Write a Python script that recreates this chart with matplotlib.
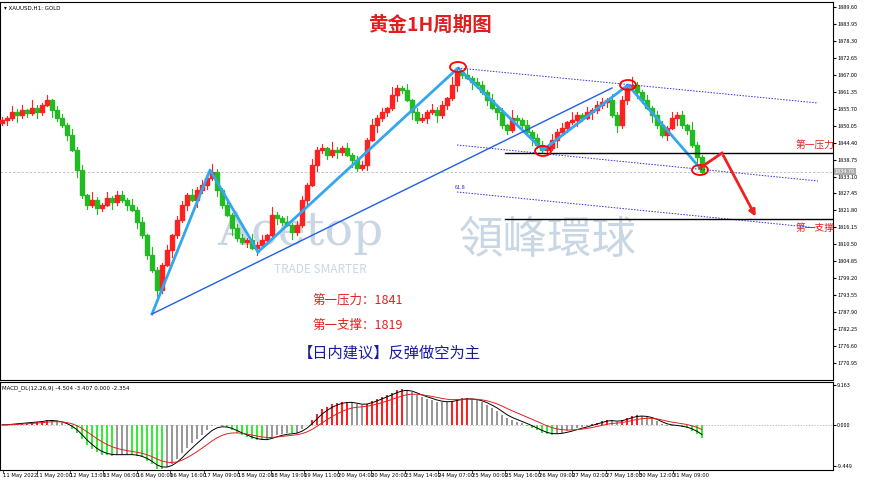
import matplotlib
matplotlib.use("Agg")
import matplotlib.pyplot as plt
import numpy as np
from matplotlib.patches import Ellipse, Rectangle

plt.rcParams['font.family'] = ['Noto Sans CJK SC', 'DejaVu Sans']

closes = [1851.9,1852.6,1854.6,1853.6,1855.3,1854.3,1856.0,1854.6,1856.9,1858.6,1855.3,1852.6,1850.3,1847.0,1842.0,1835.3,1827.0,1823.6,1825.3,1822.6,
1823.6,1826.0,1824.6,1827.0,1825.3,1823.6,1822.0,1818.0,1813.6,1807.0,1802.0,1795.3,1803.6,1808.6,1813.6,1818.6,1823.6,1827.0,1825.3,1828.6,
1830.3,1832.6,1834.6,1828.6,1823.6,1820.3,1816.0,1812.6,1811.3,1812.0,1809.3,1810.3,1812.0,1813.6,1820.3,1819.3,1818.0,1817.0,1814.6,1817.0,
1825.3,1830.3,1837.0,1842.0,1842.6,1840.3,1842.0,1841.3,1842.6,1840.3,1838.6,1836.0,1837.0,1845.3,1850.3,1852.6,1854.6,1856.0,1860.3,1862.6,
1862.0,1858.6,1854.6,1852.0,1852.6,1854.6,1855.3,1853.6,1856.9,1859.3,1863.6,1868.0,1867.0,1866.0,1864.6,1863.6,1861.3,1858.6,1856.0,1854.6,
1850.3,1848.6,1852.6,1852.0,1850.3,1848.0,1846.0,1843.6,1842.0,1842.6,1845.3,1848.0,1849.3,1851.3,1852.0,1853.6,1852.6,1854.6,1855.3,1856.9,
1858.0,1858.6,1853.6,1850.3,1858.6,1862.6,1863.6,1861.3,1858.6,1856.0,1853.6,1850.3,1847.0,1849.3,1852.6,1853.6,1850.3,1848.6,1843.6,1839.6,1834.7]
first_open = 1851.0
wick_up = [1.2,0.6,2.0,0.9,1.5,0.4,2.6,1.1,0.7,1.8,0.5,1.3]
wick_dn = [0.8,1.6,0.5,2.2,1.0,1.4,0.6,1.9,0.9,0.4,2.4,1.1]

price_ticks = [1889.60,1883.95,1878.30,1872.65,1867.00,1861.35,1855.70,1850.05,1844.40,1838.75,1833.10,
               1827.45,1821.80,1816.15,1810.50,1804.85,1799.20,1793.55,1787.90,1782.25,1776.60,1770.95]
time_labels = ["11 May 2022","11 May 20:00","12 May 13:00","13 May 06:00","16 May 00:00","16 May 16:00",
               "17 May 09:00","18 May 02:00","18 May 19:00","19 May 11:00","20 May 04:00","20 May 20:00",
               "23 May 14:00","24 May 07:00","25 May 00:00","25 May 16:00","26 May 09:00","27 May 02:00",
               "27 May 18:00","30 May 12:00","31 May 09:00"]
macd_ticks = [9.163, 0.000, -9.449]
resistance = 1841
support = 1819

W, H = 870, 482
fig = plt.figure(figsize=(8.7, 4.82), dpi=100)
fig.patch.set_facecolor('white')
ax = fig.add_axes([0, 1-380/H, 833/W, 378/H])
ax2 = fig.add_axes([0, 1-470/H, 833/W, 88/H])

ytop = 1891.95
def py(y): return ytop - y/3.0
def px(x): return (x-2)/5.0
ax.set_xlim(-0.4, 166.2)
ax.set_ylim(py(380), py(2))
ax2.set_xlim(-0.4, 166.2)
ax2.set_ylim(-10.37, 9.85)

n = len(closes)
opens = [first_open] + closes[:-1]
for i in range(n):
    o, c = opens[i], closes[i]
    hi = max(o, c) + wick_up[i % len(wick_up)]
    lo = min(o, c) - wick_dn[i % len(wick_dn)]
    col = '#ff2020' if c >= o else '#22bb22'
    ax.plot([i, i], [lo, hi], color=col, lw=0.8, zorder=3)
    ax.add_patch(Rectangle((i-0.35, min(o, c)), 0.7, max(abs(c-o), 0.15), color=col, zorder=3))

# current price line
ax.axhline(closes[-1], color='#bbbbbb', lw=0.6, ls=(0, (3, 2)), zorder=1)

# watermark
ax.text(px(300), py(232), "Acetop", fontsize=34, color='#c9d7e4', ha='center', va='center',
        family='DejaVu Serif', zorder=1)
ax.text(px(548), py(240), "領峰環球", fontsize=32, color='#c9d7e4', ha='center', va='center', zorder=1)
ax.text(px(320), py(270), "TRADE SMARTER", fontsize=8.5, color='#c9d7e4', ha='center', va='center', zorder=1)

# analysis lines
blue = '#33a6f0'
ax.plot([px(152), px(210), px(258)], [py(314), py(170), py(252)], color=blue, lw=2, zorder=4)
ax.plot([px(258), px(458), px(543), px(628), px(700)], [py(252), py(68), py(150), py(85), py(168)], color=blue, lw=2, zorder=4)
ax.plot([px(152), px(612)], [py(314), py(88)], color='#2060e0', lw=1, zorder=4)
for (x0, y0, x1, y1) in [(458, 68, 818, 103), (457, 145, 818, 181), (457, 192, 818, 228)]:
    ax.plot([px(x0), px(x1)], [py(y0), py(y1)], color='#3030d0', lw=0.7, ls=(0, (1.5, 1.5)), zorder=4)
ax.text(px(455), py(189), "61.8", fontsize=4, color='#3030d0')
ax.plot([px(505), px(833)], [resistance, resistance], color='black', lw=1, zorder=4)
ax.plot([px(505), px(833)], [support, support], color='black', lw=1, zorder=4)
for (x, y) in [(458, 67), (543, 151), (628, 85), (700, 170)]:
    ax.add_patch(Ellipse((px(x), py(y)), 16/5, 10/3, fill=False, ec='red', lw=1.3, zorder=5))
ax.plot([px(700), px(722)], [py(168), py(153)], color='#ee2020', lw=2, zorder=5)
ax.annotate("", xy=(px(757), py(219)), xytext=(px(722), py(153)),
            arrowprops=dict(arrowstyle='-|>', color='#ee2020', lw=2, mutation_scale=9), zorder=5)

# texts
ax.text(px(430), py(25), "黄金1H周期图", fontsize=14, color='#e02020', ha='center', va='center',
        family='Noto Sans CJK SC', weight='bold')
ax.text(px(815), py(145), "第一压力", fontsize=7, color='#e02020', ha='center', va='center')
ax.text(px(815), py(228), "第一支撑", fontsize=7, color='#e02020', ha='center', va='center')
ax.text(px(312), py(300), "第一压力：1841", fontsize=9, color='#e02020', va='center')
ax.text(px(312), py(325), "第一支撑：1819", fontsize=9, color='#e02020', va='center')
ax.text(px(298), py(353), "【日内建议】反弹做空为主", fontsize=11, color='#1a1aa0', va='center')
ax.text(px(4), py(8), "▾ XAUUSD,H1: GOLD", fontsize=4, color='black', va='center', family='DejaVu Sans')

# axis styling
for a in (ax, ax2):
    a.set_xticks([]); a.yaxis.tick_right()
    for s in a.spines.values(): s.set_linewidth(0.8)
ax.set_yticks(price_ticks)
ax.set_yticklabels([f"{t:.2f}" for t in price_ticks], fontsize=4)
ax.tick_params(axis='y', length=2, pad=1)
ax.text(1.002, (closes[-1]-py(380))/(py(2)-py(380)), f"{closes[-1]:.2f}", transform=ax.transAxes,
        fontsize=4, color='white', va='center', bbox=dict(fc='#aaaaaa', ec='none', pad=0.6))

# MACD
cs = np.array(closes)
def ema(x, span):
    a = 2/(span+1); out = np.empty_like(x); out[0] = x[0]
    for k in range(1, len(x)): out[k] = a*x[k] + (1-a)*out[k-1]
    return out
macd = (ema(cs, 12) - ema(cs, 26)) * 0.9
sig = ema(macd, 9)
hist = macd
idx = np.arange(n)
cols = []
for k in range(n):
    prev = hist[k-1] if k else hist[k]
    if hist[k] >= 0:
        cols.append('#ff2020' if hist[k] >= prev else '#999999')
    else:
        cols.append('#33ee33' if hist[k] <= prev else '#999999')
ax2.bar(idx, hist, width=0.55, color=cols, zorder=2)
ax2.plot(idx, ema(macd, 3), color='black', lw=0.7, zorder=3)
ax2.plot(idx, sig, color='#e02020', lw=0.7, zorder=3)
ax2.axhline(0, color='#aaaaaa', lw=0.5, ls=(0, (2, 2)))
ax2.set_yticks(macd_ticks)
ax2.set_yticklabels([f"{t:.3f}" for t in macd_ticks], fontsize=4)
ax2.tick_params(axis='y', length=2, pad=1)
ax2.text(0.003, 0.93, "MACD_DL(12,26,9) -4.504 -3.407 0.000 -2.354", transform=ax2.transAxes,
         fontsize=4, va='center', family='DejaVu Sans')

# time labels
for k, lab in enumerate(time_labels):
    xpix = 3 + 33.5*k
    fig.text(xpix/W, 1-476/H, lab, fontsize=3.8, va='center', ha='left', family='DejaVu Sans')
    fig.add_artist(plt.Line2D([xpix/W, xpix/W], [1-470/H, 1-473/H], color='black', lw=0.5))

fig.savefig("out.png", dpi=100)
